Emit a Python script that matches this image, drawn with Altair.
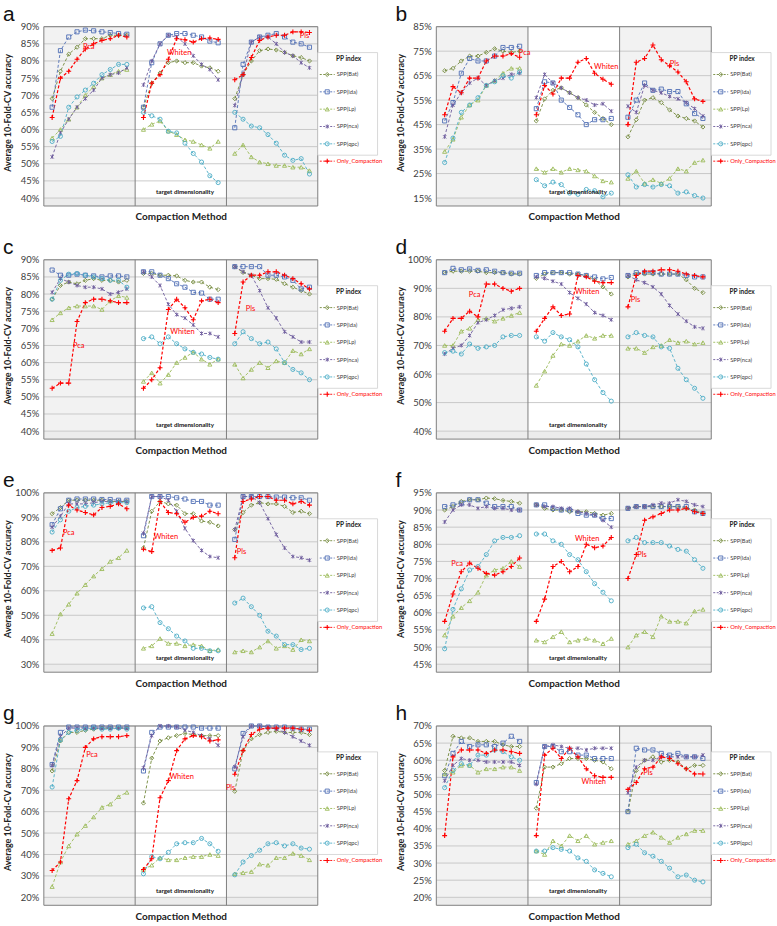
import altair as alt
import pandas as pd

SERIES = ["SPP(Bat)", "SPP(lda)", "SPP(Lp)", "SPP(nca)", "SPP(qpc)", "Only_Compaction"]
GROUPS = ["Pca", "Whiten", "Pls"]
DIMS = list(range(1, 11))
COLORS = ["#72893a", "#4f6fb5", "#9bbb59", "#6b5a9c", "#4bacc6", "#ff0000"]
SHAPES = ["diamond", "square", "triangle-up",
          "M-0.8,-0.8L0.8,0.8M-0.8,0.8L0.8,-0.8M0,-1L0,1",
          "circle", "M-1,0L1,0M0,-1L0,1"]

# each list: Pca dims 1-10, Whiten dims 1-10, Pls dims 1-10 (accuracy %)
A_BAT = [69, 77, 82, 84, 86.5, 86.5, 86.5, 87.5, 87.5, 87.5, 66.5, 73.5, 76.5, 79.5, 80, 79.5, 79.5, 78.5, 78, 77, 69, 76, 80, 83, 83.5, 83.2, 82.5, 81.5, 81, 80]
A_LDA = [66.5, 83, 87, 88.5, 89, 88.8, 88.5, 88.3, 88, 87.8, 66.5, 79.5, 85, 87.5, 88, 88, 87.5, 87, 85.8, 85.3, 60.5, 79, 85.5, 87, 87.5, 88, 87, 85.5, 85, 84]
A_LP = [57.5, 60, 63, 66.5, 70, 72.5, 75, 76, 77, 77.5, 60, 61.5, 62.5, 59.5, 58.5, 57, 56.5, 55.5, 54.5, 56.5, 53, 55.5, 52, 50.5, 50, 49.5, 49.5, 49, 49, 48]
A_NCA = [52, 59, 63, 66.5, 69, 71.5, 75, 76, 76.5, 78, 73, 80, 85, 87.5, 87, 85, 81.5, 79, 77.5, 74.5, 67, 76, 85.5, 87, 87, 85, 82.5, 81.5, 79.5, 78]
A_QPC = [56.5, 58, 66.5, 69.5, 71.5, 73.5, 76, 77.5, 79, 79, 65, 64, 63, 59.5, 59, 56, 53, 50.5, 46.5, 44.5, 65, 63, 61, 60.5, 58.5, 56, 52.5, 51, 51.5, 47]
A_ONLY = [63.5, 75, 77, 80.5, 83.5, 85, 86, 86.5, 87.5, 87, 63.5, 73.5, 76, 80.5, 86.5, 86.2, 85.5, 86.5, 86.7, 86.3, 74.5, 76, 81, 86, 87, 87.5, 87.5, 88.5, 88.5, 88.3]

B_BAT = [67, 68, 71, 73, 73, 74.5, 76, 75, 74.5, 75, 46.5, 55.5, 59, 60, 58, 56, 53, 50, 47.5, 45, 40, 47, 55, 56, 54, 51, 48.5, 47.5, 46.5, 44]
B_LDA = [46.5, 54, 66, 72, 71, 71, 73, 76.5, 76.5, 77, 51.5, 62.5, 62, 55, 52, 49, 45, 47, 47, 47.5, 48, 55, 62, 59, 59.5, 58.5, 58.5, 53.5, 49.5, 47.5]
B_LP = [34, 39, 48, 53, 55, 61, 63, 66, 68, 68, 27, 25.5, 27, 25.5, 27, 26.5, 26, 24, 22, 21.5, 23, 26, 21, 22.5, 21, 23, 27, 26, 29.5, 30.5]
B_NCA = [40, 53, 58, 62, 64, 61, 63, 64, 65.5, 66, 56, 65.5, 62, 60, 58, 56, 55, 53, 53.5, 50.5, 52.5, 50, 61, 59, 58, 56.5, 55.5, 54, 51.5, 48.5]
B_QPC = [29.5, 39.5, 50, 53, 56, 61, 62.5, 65, 64, 66.5, 22.5, 20, 21.5, 20.5, 17, 16.5, 18.5, 18, 15.5, 17, 24.5, 19.5, 20.5, 19.5, 20.5, 20, 17, 17.5, 16, 15]
B_ONLY = [49, 60.5, 58, 64, 64, 71, 73, 73, 74, 72.5, 49, 61, 57.5, 64, 64, 70.5, 72, 66, 63.5, 61.5, 45, 70.5, 72, 77.5, 71.5, 69, 66.5, 62.5, 55.5, 54.5]

C_BAT = [78.5, 82.5, 83.5, 83, 84, 84.5, 84, 84, 83.5, 84, 86, 86, 85.5, 85.5, 85.3, 84, 83.5, 83.5, 82, 81.3, 88, 86.3, 85.5, 84.5, 84.5, 84.3, 83, 82, 81, 80]
C_LDA = [87, 85.5, 85.5, 85.8, 85.5, 85.3, 85, 85.3, 85.3, 85, 86.5, 86.5, 85.5, 84.5, 83, 82, 80.5, 80.3, 78.5, 78.5, 88, 88, 88, 88, 85.5, 85.5, 85, 84, 81.5, 82]
C_LP = [72.5, 74.5, 76, 76.5, 76.5, 76.5, 75.5, 78, 79.5, 79, 54.5, 57, 54, 56.5, 60, 61.5, 63, 61, 59.5, 61, 59.5, 55.5, 58, 60, 58.5, 60.5, 60, 63.5, 62.5, 64]
C_NCA = [80.5, 84.5, 83.5, 82.5, 82, 82, 81.5, 80, 80.5, 81.5, 86.5, 85, 82.5, 77, 74, 73, 71, 68.5, 68.5, 67.5, 88, 86.5, 85.5, 81, 76, 73, 69, 67.5, 66, 66]
C_QPC = [78.5, 84, 85.8, 86, 85.5, 85, 84.5, 84, 84, 82, 67, 67.5, 65.5, 67.5, 65.5, 64, 63, 62.5, 61.5, 61, 65.5, 69, 67, 65.5, 66, 64, 60, 58, 57, 55]
C_ONLY = [52.5, 54, 54, 72, 77.5, 78.5, 78.5, 78, 77.5, 77.5, 52.5, 55, 58.5, 75.5, 78.5, 76, 72.5, 78, 78.5, 77.5, 68.5, 83.5, 85.5, 85.5, 86.5, 86.5, 85.5, 84.5, 83, 81.5]

D_BAT = [95.5, 96, 96, 96, 96, 95.5, 95.5, 95.5, 95, 95, 93.5, 95, 95.5, 95.5, 95, 95, 94.5, 93, 90.5, 88, 94, 95, 95, 95, 95, 95, 95, 93, 90, 88.5]
D_LDA = [95.5, 97, 96.5, 96.8, 96.3, 96.5, 96, 95.5, 95.3, 95.3, 94.5, 95.5, 95.5, 95.5, 95.5, 95, 94.5, 94, 93.3, 93.8, 94.5, 95.5, 95.5, 95.5, 95, 95, 95, 94.5, 94, 94]
D_LP = [70, 70, 75, 76, 79, 79.5, 78.5, 79.5, 80.5, 81.5, 56, 61, 66.5, 70.5, 70, 71.5, 73.5, 72.5, 73.5, 73.5, 69, 69, 67.5, 69.5, 70, 72, 71, 71.5, 70.5, 71]
D_NCA = [67, 69, 70, 73.5, 78, 79, 80.5, 82.5, 83, 83.5, 94, 93.5, 92.5, 91.5, 88.5, 86.5, 84.5, 81.5, 80.5, 79, 94.5, 93, 92, 90.5, 88, 84, 81, 78.5, 76.5, 76]
D_QPC = [67.5, 68, 67, 70.5, 69, 69.5, 70, 73, 73.5, 73.5, 73, 71.5, 74.5, 73, 72, 69.5, 63.5, 58, 53.5, 50.5, 73, 74.5, 73.5, 73, 69.5, 69, 62, 58, 55, 51.5]
D_ONLY = [75, 79.5, 79.5, 82, 80, 91.5, 91.5, 90, 89, 90, 75, 79.5, 83.5, 80.5, 81, 94.5, 94, 92.5, 92, 92, 83.5, 94.5, 96, 96, 96.5, 96.5, 96, 95, 94.5, 94]

E_BAT = [91.5, 94, 97, 97, 97, 97, 97, 96.5, 96.5, 96.5, 77.5, 92.5, 96.5, 95.5, 95, 91.5, 91.5, 88.5, 88, 86.5, 85, 92, 95, 96, 95.5, 95.5, 94.5, 92, 92.5, 91.5]
E_LDA = [87, 93.5, 97, 97.5, 97.5, 97.5, 97.3, 97.3, 97, 97, 82.5, 98.5, 98.5, 98.5, 98, 97.5, 96.5, 96.5, 95, 95, 81, 98.5, 98.5, 98.5, 98.5, 98.3, 98.3, 98, 98, 97]
E_LP = [42.5, 50.5, 54.5, 59, 62.5, 66, 69, 72, 73.5, 76.5, 36.5, 37.5, 40.5, 38.5, 38.5, 37.5, 38, 37.5, 35.5, 36, 35, 35.5, 35, 37, 39.5, 36.5, 37.5, 36, 40, 39.5]
E_NCA = [86, 90.5, 95.5, 95.5, 95.5, 96, 96.5, 96.5, 96.5, 96.5, 83.5, 98.5, 98.5, 97, 92.5, 85.5, 80.5, 76.5, 74, 73.5, 85, 98.5, 98.5, 96, 89.5, 83, 77.5, 74, 73.5, 72.5]
E_QPC = [84, 89, 92.5, 94, 94.5, 95, 95.5, 96, 96, 96, 53, 53.5, 47, 44.5, 41.5, 39.5, 36.5, 36.5, 35.5, 35.5, 55, 57, 53.5, 50, 43.5, 41.5, 38, 38, 36, 36.5]
E_ONLY = [76.5, 77.5, 95, 93, 92, 91, 94, 94.5, 95.5, 93.5, 77, 76, 96.5, 92, 91.5, 88, 90, 90.5, 92.5, 91.5, 73.5, 96.5, 97.5, 98.5, 98.5, 97, 97, 95.5, 96.5, 95]

F_BAT = [90, 91, 92.5, 93, 93, 93.5, 93.3, 92.8, 92.5, 92, 91.5, 90.5, 90, 90, 89.5, 89.5, 89.5, 89, 88.5, 89, 90.5, 91, 91, 91, 91, 91, 91, 90.5, 90, 89]
F_LDA = [91, 91.5, 92, 93, 93, 92, 91, 91, 91, 90, 91.5, 91.5, 90.5, 90, 90, 89, 88.5, 88.5, 87.5, 87.5, 90.5, 91, 91, 91, 91, 91, 91, 91, 89.5, 89]
F_LP = [53.5, 59, 61.5, 63.5, 66, 71, 72.5, 73, 75, 73.5, 52, 51.5, 53, 54.5, 51.5, 52, 52.5, 52, 51, 52.5, 50, 53.5, 54.5, 53, 59, 57.5, 57.5, 57, 60.5, 61]
F_NCA = [86.5, 90, 91.5, 91.5, 90.5, 91, 90.5, 90.5, 90, 90, 91.5, 91, 91, 90.5, 90.5, 89.5, 89, 88.5, 87, 85, 90.5, 91, 91, 91.5, 92, 92, 93, 92.5, 91.5, 91]
F_QPC = [49.5, 61, 67, 72.5, 73.5, 77, 81, 82, 82, 82.5, 83, 83, 81, 80, 77, 75.5, 72, 68.5, 66, 63.5, 81, 82, 80.5, 80.5, 80.5, 79.5, 78.5, 78, 75.5, 73]
F_ONLY = [57.5, 65.5, 72, 74.5, 73, 71.5, 71, 72, 73.5, 76, 57.5, 64, 73.5, 75, 72, 73.5, 80, 79, 79.5, 82, 70, 77, 87, 88, 89, 90, 90, 90.5, 89.5, 89]

G_BAT = [79, 93, 97, 97, 98, 98.5, 99, 99, 99, 99, 64, 85, 93, 94.5, 95.5, 96.5, 96, 95.5, 95.5, 95.5, 69.5, 88.5, 94, 96, 97, 97.5, 97, 97, 97, 96]
G_LDA = [82, 97, 99.5, 99.5, 99.5, 99.5, 99.5, 99.5, 99.5, 99.5, 79, 97, 99.5, 99.5, 99.5, 99.5, 99.5, 99, 99, 99, 80, 96.5, 100, 100, 99.5, 99.5, 99.5, 99, 98.5, 98.5]
G_LP = [25, 36.5, 44, 49.5, 53.5, 57.5, 62, 63.5, 67, 69, 33, 35, 38.5, 37.5, 37.5, 38.5, 39, 39, 40, 39.5, 31, 31.5, 32, 35.5, 35, 38.5, 38.5, 40.5, 39.5, 37.5]
G_NCA = [81.5, 95, 99, 99, 99, 99, 99, 99, 99, 99, 80.5, 95.5, 100, 100, 99.5, 98, 97, 95.5, 94, 91, 81, 95, 100, 100, 99.5, 98.5, 97, 95, 93, 91]
G_QPC = [71.5, 93.5, 97, 98, 98.5, 99, 98.5, 98.5, 99, 98.5, 31, 39, 38, 41, 45, 45.5, 45.5, 47.5, 45, 41.5, 30.5, 36.5, 39.5, 42, 45, 45.5, 44, 45, 43, 42.5]
G_ONLY = [32.5, 36.5, 66, 74.5, 90, 94, 95, 95, 95, 95.5, 33, 38, 66.5, 74.5, 88.5, 94, 95.5, 95, 93, 93.5, 77.5, 88.5, 96, 98.5, 99, 99, 99, 99, 98.5, 98]

H_BAT = [57, 67, 66.5, 66.5, 65.5, 65.5, 65.5, 64.5, 64, 64, 46, 58, 58, 59, 60.5, 60.5, 60.5, 60, 59.5, 57.5, 45, 57, 60, 61, 59.5, 60, 59.5, 57.5, 58.5, 58.5]
H_LDA = [55.5, 62, 65.5, 64, 64.5, 64.5, 64, 65, 67, 65.5, 53.5, 64, 64, 62.5, 62.5, 61.5, 61.5, 60.5, 60.5, 60.5, 45, 63.5, 63, 63, 62, 61.5, 62, 61, 61, 60.5]
H_LP = [56, 56.5, 58.5, 58.5, 56.5, 57.5, 57.5, 58, 58, 57, 33.5, 32.5, 36.5, 35, 38, 36.5, 38, 35.5, 36, 36.5, 35.5, 36.5, 38, 39, 37.5, 36, 37.5, 38.5, 39.5, 39.5]
H_NCA = [54, 58.5, 60.5, 60, 60, 59.5, 59.5, 59.5, 59.5, 58.5, 53, 64, 64.5, 64, 63.5, 63.5, 63, 63.5, 63.5, 63.5, 50.5, 58, 60, 60, 61, 61, 61, 61, 61, 61.5]
H_QPC = [52, 57, 59, 58.5, 61.5, 61.5, 63, 62.5, 61, 60, 33.5, 33.5, 34.5, 34, 33.5, 31.5, 30.5, 28, 27, 26, 34.5, 35.5, 33, 32, 30.5, 28.5, 26, 26.5, 25, 24.5]
H_ONLY = [38, 61, 63, 63, 63, 62, 63, 63, 62.5, 62, 38, 61.5, 63.5, 60.5, 63.5, 61, 57.5, 55.5, 55, 55, 51.5, 53.5, 57.5, 58, 61, 60.5, 59, 57.5, 56, 56]

# y axis ranges (min, max, step)
Y_A = (40, 90, 5)
Y_B = (15, 85, 10)
Y_C = (40, 90, 5)
Y_D = (40, 100, 10)
Y_E = (30, 100, 10)
Y_F = (45, 95, 5)
Y_G = (20, 100, 10)
Y_H = (20, 70, 5)

# red method labels: (text, group index, dim position, accuracy)
N_A = [("Pca", 0, 5.4, 84), ("Whiten", 1, 5.3, 82.4), ("Pls", 2, 9.4, 87.3)]
N_B = [("Pca", 0, 10.6, 74.2), ("Whiten", 1, 9.4, 68.6), ("Pls", 2, 6.6, 69.7)]
N_C = [("Pca", 0, 4.2, 64.9), ("Whiten", 1, 5.7, 68.8), ("Pls", 2, 2.9, 75.6)]
N_D = [("Pca", 0, 4.6, 87.5), ("Whiten", 1, 7.1, 88.6), ("Pls", 2, 1.9, 85.9)]
N_E = [("Pca", 0, 3.0, 83.8), ("Whiten", 1, 3.7, 82.0), ("Pls", 2, 1.8, 76.0)]
N_F = [("Pca", 0, 2.5, 74.2), ("Whiten", 1, 7.1, 81.5), ("Pls", 2, 2.7, 77.0)]
N_G = [("Pca", 0, 5.8, 86.4), ("Whiten", 1, 5.6, 76.3), ("Pls", 2, 0.5, 71.0)]
N_H = [("Whiten", 1, 7.9, 53.6), ("Pls", 2, 3.4, 56.3)]

H = 172
GW = 11
ONLY = SERIES[-1]
color_scale = alt.Scale(domain=SERIES, range=COLORS)
shape_scale = alt.Scale(domain=SERIES, range=SHAPES)


def one():
    return alt.Data(values=[{"k": 1}])


def panel(letter, lists, yspec, notes, width, top_anchor=False, bottom_anchor=False):
    ymin, ymax, ystep = yspec
    ticks = [t / 100 for t in range(ymin, ymax + 1, ystep)]
    rows = []
    for s, vals in zip(SERIES, lists):
        for gi, g in enumerate(GROUPS):
            for d in DIMS:
                rows.append(dict(series=s, group=g, x=gi * GW + d,
                                 acc=vals[gi * 10 + d - 1] / 100,
                                 sw=1.2 if s == ONLY else 0.9,
                                 ps=24 if s == ONLY else 17,
                                 psw=1.1 if s == ONLY else 0.9))
    df = pd.DataFrame(rows)
    xs = alt.Scale(domain=[0, 3 * GW], nice=False, zero=False)
    ys = alt.Scale(domain=[ymin / 100, ymax / 100], nice=False, zero=False)
    xticks = [gi * GW + d for gi in range(3) for d in DIMS]
    xaxis = alt.Axis(values=xticks, labelExpr="'' + (datum.value % 11)", labelFontSize=5.5,
                     labelPadding=1.5, labelColor="#404040", labelOverlap=False, labelFlush=False,
                     ticks=False, domain=False, grid=False, title="Compaction Method",
                     titleFontSize=10, titleFontWeight="bold", titleY=14, titleColor="#222222")
    yaxis = alt.Axis(values=ticks, format=".0%", labelFontSize=9.5, labelColor="#404040",
                     labelPadding=5, ticks=False, domain=False, grid=False,
                     title="Average  10-Fold-CV  accuracy", titleFontSize=9, titleFontWeight="bold",
                     titleX=-31, titleY=H / 2, titleColor="#222222")
    X = lambda f: alt.X(f, scale=xs, axis=xaxis)
    Y = lambda f: alt.Y(f, scale=ys, axis=yaxis)

    bgdf = pd.DataFrame({"x0": [0, GW, 2 * GW], "x1": [GW, 2 * GW, 3 * GW],
                         "fill": ["#f2f2f2", "#ffffff", "#f2f2f2"]})
    bg = alt.Chart(bgdf).mark_rect().encode(
        x=X("x0:Q"), x2="x1:Q", y=alt.value(0), y2=alt.value(H),
        fill=alt.Fill("fill:N", scale=None))
    strip = alt.Chart(one()).mark_rect(fill="#ececec").encode(
        x=alt.value(0), x2=alt.value(width), y=alt.value(H), y2=alt.value(H + 8))
    grid = alt.Chart(pd.DataFrame({"v": ticks})).mark_rule(color="#c4c4c4", strokeWidth=0.9).encode(
        y=Y("v:Q"), x=alt.value(0), x2=alt.value(width))
    seps = alt.Chart(pd.DataFrame({"s": [GW, 2 * GW]})).mark_rule(color="#808080", strokeWidth=1).encode(
        x=X("s:Q"), y=alt.value(0), y2=alt.value(H + 8))
    frame = alt.Chart(one()).mark_rect(fillOpacity=0, stroke="#808080", strokeWidth=1).encode(
        x=alt.value(0), x2=alt.value(width), y=alt.value(0), y2=alt.value(H + 8))
    lines = alt.Chart(df).mark_line(strokeDash=[3, 2]).encode(
        x=X("x:Q"), y=Y("acc:Q"),
        color=alt.Color("series:N", scale=color_scale, legend=None),
        detail="group:N", order="x:Q",
        strokeWidth=alt.StrokeWidth("sw:Q", scale=None))
    pts = alt.Chart(df).mark_point(filled=False, opacity=1).encode(
        x=X("x:Q"), y=Y("acc:Q"),
        color=alt.Color("series:N", scale=color_scale, legend=None),
        shape=alt.Shape("series:N", scale=shape_scale, legend=None),
        size=alt.Size("ps:Q", scale=None),
        strokeWidth=alt.StrokeWidth("psw:Q", scale=None))
    ndf = pd.DataFrame([{"t": t, "x": g * GW + d, "y": v / 100} for t, g, d, v in notes])
    ntext = alt.Chart(ndf).mark_text(color="#ff0000", fontSize=7.5).encode(
        x=X("x:Q"), y=Y("y:Q"), text="t:N")
    tdim = alt.Chart(one()).mark_text(text="target  dimensionality", fontSize=6.2,
                                      fontWeight="bold", color="#111111").encode(
        x=alt.value(width * 17.0 / 33), y=alt.value(H - 6))
    let = alt.Chart(one()).mark_text(text=letter, fontSize=21, align="left",
                                     baseline="alphabetic", font="Liberation Sans",
                                     color="#111111").encode(
        x=alt.value(-41), y=alt.value(-6))
    layers = [bg, strip, grid, seps, frame, lines, pts, ntext, tdim, let]
    if top_anchor:
        layers.append(alt.Chart(one()).mark_rect(opacity=0).encode(
            x=alt.value(-43), x2=alt.value(-42), y=alt.value(-24), y2=alt.value(-23)))
    if bottom_anchor:
        layers.append(alt.Chart(one()).mark_rect(opacity=0).encode(
            x=alt.value(0), x2=alt.value(1), y=alt.value(H + 27), y2=alt.value(H + 28)))
    return alt.layer(*layers).properties(width=width, height=H)


def legend(width):
    ld = pd.DataFrame({"series": SERIES,
                       "ps": [24 if s == ONLY else 17 for s in SERIES],
                       "psw": [1.1 if s == ONLY else 0.9 for s in SERIES]})
    ysc = alt.Scale(type="point", domain=SERIES, range=[48, 135], padding=0)
    Yl = alt.Y("series:N", scale=ysc, axis=None)
    box = alt.Chart(one()).mark_rect(fill="white", stroke="#cfcfcf", strokeWidth=0.8).encode(
        x=alt.value(0), x2=alt.value(60), y=alt.value(26), y2=alt.value(129))
    title = alt.Chart(one()).mark_text(text="PP index", fontSize=6.5, fontWeight="bold",
                                       color="#222222").encode(x=alt.value(31), y=alt.value(32))
    rule = alt.Chart(ld).mark_rule(strokeDash=[2, 1.5], strokeWidth=0.9).encode(
        x=alt.value(2), x2=alt.value(17), y=Yl,
        color=alt.Color("series:N", scale=color_scale, legend=None))
    pts = alt.Chart(ld).mark_point(filled=False, opacity=1).encode(
        x=alt.value(9.5), y=Yl,
        color=alt.Color("series:N", scale=color_scale, legend=None),
        shape=alt.Shape("series:N", scale=shape_scale, legend=None),
        size=alt.Size("ps:Q", scale=None),
        strokeWidth=alt.StrokeWidth("psw:Q", scale=None))
    txt1 = alt.Chart(ld).transform_filter(alt.datum.series != ONLY).mark_text(
        align="left", fontSize=5.8, color="#404040").encode(x=alt.value(19), y=Yl, text="series:N")
    txt2 = alt.Chart(ld).transform_filter(alt.datum.series == ONLY).mark_text(
        align="left", fontSize=5.8, color="#ff0000").encode(x=alt.value(19), y=Yl, text="series:N")
    return alt.layer(box, title, rule, pts, txt1, txt2).properties(width=width, height=H)


LW, RW = 275, 276
cells = [
    panel("a", [A_BAT, A_LDA, A_LP, A_NCA, A_QPC, A_ONLY], Y_A, N_A, LW, top_anchor=True), legend(119),
    panel("b", [B_BAT, B_LDA, B_LP, B_NCA, B_QPC, B_ONLY], Y_B, N_B, RW), legend(64),
    panel("c", [C_BAT, C_LDA, C_LP, C_NCA, C_QPC, C_ONLY], Y_C, N_C, LW), legend(119),
    panel("d", [D_BAT, D_LDA, D_LP, D_NCA, D_QPC, D_ONLY], Y_D, N_D, RW), legend(64),
    panel("e", [E_BAT, E_LDA, E_LP, E_NCA, E_QPC, E_ONLY], Y_E, N_E, LW), legend(119),
    panel("f", [F_BAT, F_LDA, F_LP, F_NCA, F_QPC, F_ONLY], Y_F, N_F, RW), legend(64),
    panel("g", [G_BAT, G_LDA, G_LP, G_NCA, G_QPC, G_ONLY], Y_G, N_G, LW, bottom_anchor=True), legend(119),
    panel("h", [H_BAT, H_LDA, H_LP, H_NCA, H_QPC, H_ONLY], Y_H, N_H, RW), legend(64),
]

chart = alt.concat(*cells, columns=4, spacing={"row": 62, "column": 0}, bounds="flush").properties(
    padding=0, background="white"
).configure(font="Lato").configure_view(stroke="transparent")

chart.save("out.html", embed_options={"renderer": "svg", "actions": False})
